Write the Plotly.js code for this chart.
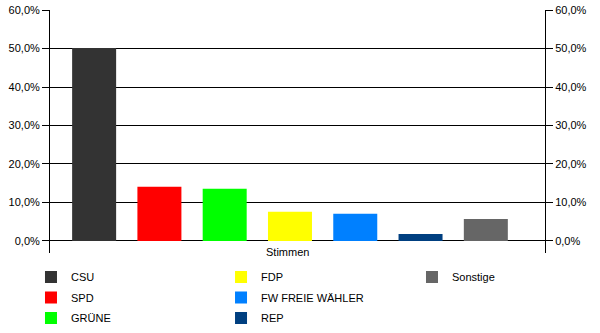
<!DOCTYPE html>
<html>
<head>
<meta charset="utf-8">
<script src="https://cdn.plot.ly/plotly-3.0.1.min.js"></script>
<style>html,body{margin:0;padding:0;background:#fff}#chart{width:600px;height:333px}</style>
</head>
<body>
<div id="chart"></div>
<script>
// Data
const category = ["Stimmen"];
const parties = ["CSU", "SPD", "GRÜNE", "FDP", "FW FREIE WÄHLER", "REP", "Sonstige"];
const values = [50.1, 14.1, 13.6, 7.6, 7.1, 1.8, 5.7];
const tickValues = [0, 10, 20, 30, 40, 50, 60];
const tickLabels = ["0,0%", "10,0%", "20,0%", "30,0%", "40,0%", "50,0%", "60,0%"];

// Styles
const colors = ["#333333", "#ff0000", "#00ff00", "#ffff00", "#0080ff", "#003f80", "#666666"];
const legendOf = ["legend", "legend", "legend", "legend2", "legend2", "legend2", "legend3"];

const traces = parties.map((p, i) => ({
  type: "bar",
  name: p,
  x: category,
  y: [values[i]],
  marker: {color: colors[i], line: {width: 0}},
  legend: legendOf[i],
  legendgroup: p,
  hoverinfo: "none"
}));
// empty helper trace so the right-hand axis is drawn
traces.push({
  type: "scatter", mode: "markers", x: category, y: [null],
  yaxis: "y2", showlegend: false, hoverinfo: "skip"
});

const font = {family: "Liberation Sans, Arial, sans-serif", size: 11, color: "#000"};
const yCommon = {
  range: [-3.12, 60],
  tickmode: "array",
  tickvals: tickValues,
  ticktext: tickLabels,
  ticks: "outside",
  ticklen: 7,
  tickcolor: "#000",
  showline: true,
  linecolor: "#000",
  linewidth: 1,
  tickfont: font,
  fixedrange: true,
  autorange: false
};
const legendCommon = {
  orientation: "v",
  yanchor: "top",
  xanchor: "left",
  y: -0.0387,
  bgcolor: "rgba(0,0,0,0)",
  font: font,
  tracegroupgap: 1.5
};

const layout = {
  width: 600,
  height: 333,
  margin: {l: 50, r: 55, t: 10, b: 80, autoexpand: false},
  paper_bgcolor: "#fff",
  plot_bgcolor: "#fff",
  font: font,
  separators: ",.",
  barmode: "group",
  bargap: 0.0768,
  bargroupgap: 0.326,
  showlegend: true,
  xaxis: {
    type: "category",
    range: [-0.4848, 0.5152],
    showticklabels: false,
    showgrid: false,
    zeroline: false,
    showline: false,
    ticks: "",
    fixedrange: true
  },
  yaxis: Object.assign({}, yCommon, {
    side: "left",
    showgrid: true,
    gridcolor: "#000",
    gridwidth: 1,
    zeroline: true,
    zerolinecolor: "#000",
    zerolinewidth: 1
  }),
  yaxis2: Object.assign({}, yCommon, {
    side: "right",
    overlaying: "y",
    anchor: "x",
    showgrid: false,
    zeroline: false
  }),
  legend: Object.assign({}, legendCommon, {x: -0.0384}),
  legend2: Object.assign({}, legendCommon, {x: 0.3455}),
  legend3: Object.assign({}, legendCommon, {x: 0.7313}),
  annotations: [{
    xref: "x", yref: "y",
    x: category[0], y: -2.9,
    text: category[0],
    showarrow: false,
    font: font,
    xshift: -2
  }]
};

Plotly.newPlot("chart", traces, layout, {displayModeBar: false, staticPlot: true});
</script>
</body>
</html>
